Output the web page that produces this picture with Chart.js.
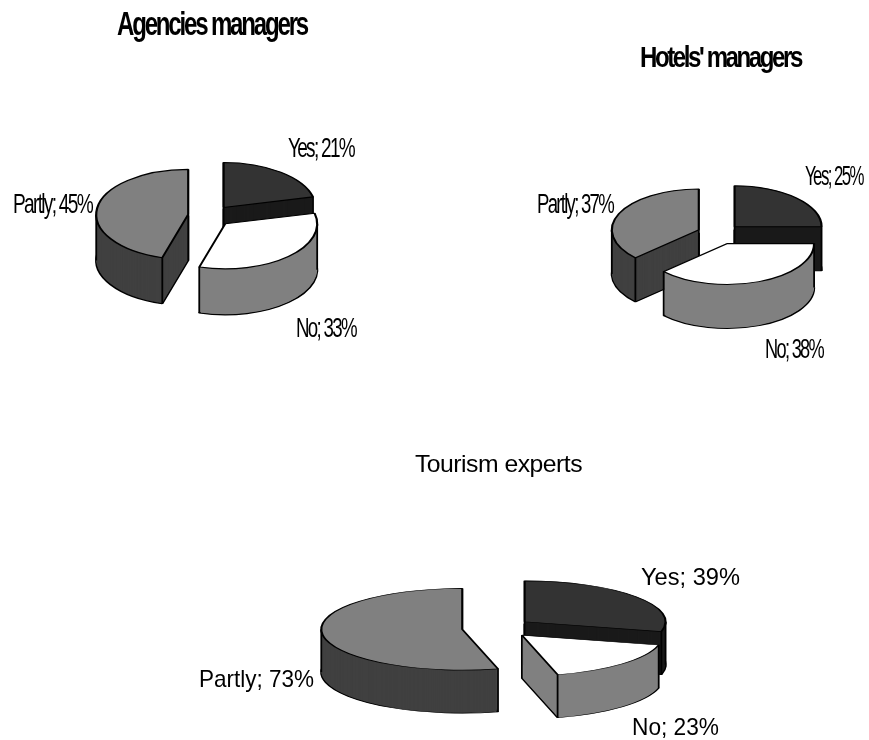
<!DOCTYPE html>
<html><head><meta charset="utf-8">
<style>html,body{margin:0;padding:0;background:#fff;width:869px;height:740px;overflow:hidden}canvas{position:absolute}</style>
<script src="https://cdn.jsdelivr.net/npm/chart.js@4/dist/chart.umd.min.js"></script>
</head><body>
<canvas id="c1" style="left:0;top:0"></canvas>
<canvas id="c2" style="left:450px;top:0"></canvas>
<canvas id="c3" style="left:150px;top:440px"></canvas>
<script>
const categories = ['Yes', 'No', 'Partly'];
const agenciesValues = [21, 33, 45];
const hotelsValues = [25, 38, 37];
const expertsValues = [39, 23, 73];
const topColors = ['#333333', '#ffffff', '#808080'];
const sideColors = ['#1a1a1a', '#808080', '#404040'];
const paintOrder = [0, 2, 1];

const font = (w, s) => `${w} ${s}px "Liberation Sans", Arial, sans-serif`;

function fitText(ctx, text, x0, x1, base, f, spacing) {
  ctx.save();
  ctx.font = f; ctx.fillStyle = '#000'; ctx.textAlign = 'left'; ctx.textBaseline = 'alphabetic';
  ctx.letterSpacing = spacing + 'px';
  const w = ctx.measureText(text).width;
  ctx.translate(x0, base); ctx.scale((x1 - x0) / w, 1);
  ctx.fillText(text, 0, 0);
  ctx.restore();
}

const pie3d = {
  id: 'pie3d',
  beforeDatasetsDraw(chart, args, o) {
    const ctx = chart.ctx, meta = chart.getDatasetMeta(0);
    for (const i of paintOrder) {
      const el = meta.data[i], base = el.options;
      const half = (el.startAngle + el.endAngle) / 2;
      const dx = Math.cos(half) * o.gap, dy = Math.sin(half) * o.gap;
      const side = sideColors[i];
      const paint = (shift, opts) => {
        ctx.save();
        ctx.translate(dx + el.x, el.y + shift + dy * o.tilt);
        ctx.scale(1, o.tilt);
        ctx.translate(-el.x, -el.y);
        el.options = opts;
        el.draw(ctx);
        el.options = base;
        ctx.restore();
      };
      paint(o.depth, Object.assign({}, base, { backgroundColor: side }));
      const fillOnly = Object.assign({}, base, { backgroundColor: side, borderColor: side, borderWidth: 0 });
      for (let d = o.depth - 1; d > 0; d--) paint(d, fillOnly);
      const inSlice = a => a >= el.startAngle && a <= el.endAngle;
      const angles = [0, Math.PI].filter(inSlice);
      // a cut corner on the back half is hidden when the slice wraps round to the front
      if (!(el.startAngle < 0 && inSlice(0))) angles.push(el.startAngle);
      if (!(el.endAngle > Math.PI && inSlice(Math.PI))) angles.push(el.endAngle);
      ctx.save();
      ctx.strokeStyle = '#000'; ctx.lineWidth = 1.8;
      ctx.beginPath();
      const vert = (px, py) => { ctx.moveTo(px, py); ctx.lineTo(px, py + o.depth); };
      // the apex edge only shows when the slice does not face the viewer
      if (!inSlice(Math.PI / 2)) vert(el.x + dx, el.y + dy * o.tilt);
      for (const a of angles) {
        vert(el.x + dx + Math.cos(a) * el.outerRadius, el.y + (dy + Math.sin(a) * el.outerRadius) * o.tilt);
      }
      ctx.stroke();
      ctx.restore();
      paint(0, base);
    }
    return false;
  },
  afterDraw(chart, args, o) {
    const ctx = chart.ctx, vals = chart.data.datasets[0].data;
    fitText(ctx, o.title, o.titleBox[0], o.titleBox[1], o.titleBox[2], o.titleFont, o.titleSpacing);
    chart.data.labels.forEach((c, i) => {
      const b = o.labelBoxes[i];
      fitText(ctx, `${c}; ${vals[i]}%`, b[0], b[1], b[2], o.labelFont, o.labelSpacing);
    });
  }
};

function makePie(id, w, h, values, padding, radius, style) {
  const cv = document.getElementById(id);
  cv.width = w; cv.height = h;
  return new Chart(cv, {
    type: 'pie',
    data: { labels: categories, datasets: [{ data: values, backgroundColor: topColors, borderColor: '#000', borderWidth: 2.2 }] },
    options: {
      responsive: false, animation: false, radius,
      layout: { padding },
      events: [],
      plugins: { legend: { display: false }, tooltip: { enabled: false }, pie3d: style }
    },
    plugins: [pie3d]
  });
}

makePie('c1', 430, 440, agenciesValues, { right: 10, bottom: 8 }, 92, {
  gap: 22, tilt: 0.49, depth: 46,
  title: 'Agencies managers', titleBox: [117, 307, 35], titleFont: font('bold', 33), titleSpacing: -3,
  labelFont: font('normal', 28), labelSpacing: -2.5,
  labelBoxes: [[288, 354, 157], [296, 356, 337], [13, 92, 213]]
});
makePie('c2', 419, 440, hotelsValues, { left: 119, top: 28 }, 87, {
  gap: 22, tilt: 0.47, depth: 44,
  title: "Hotels' managers", titleBox: [190, 351, 67], titleFont: font('bold', 30), titleSpacing: -3,
  labelFont: font('normal', 27), labelSpacing: -2.5,
  labelBoxes: [[355, 413, 185], [315, 373, 358], [87, 163, 213]]
});
makePie('c3', 600, 300, expertsValues, { top: 76, left: 94 }, 141, {
  gap: 35, tilt: 0.29, depth: 43,
  title: 'Tourism experts', titleBox: [265, 432, 32], titleFont: font('normal', 24), titleSpacing: -0.5,
  labelFont: font('normal', 24), labelSpacing: 0,
  labelBoxes: [[491, 590, 145], [482, 569, 295], [49, 164, 247]]
});
</script>
</body></html>
